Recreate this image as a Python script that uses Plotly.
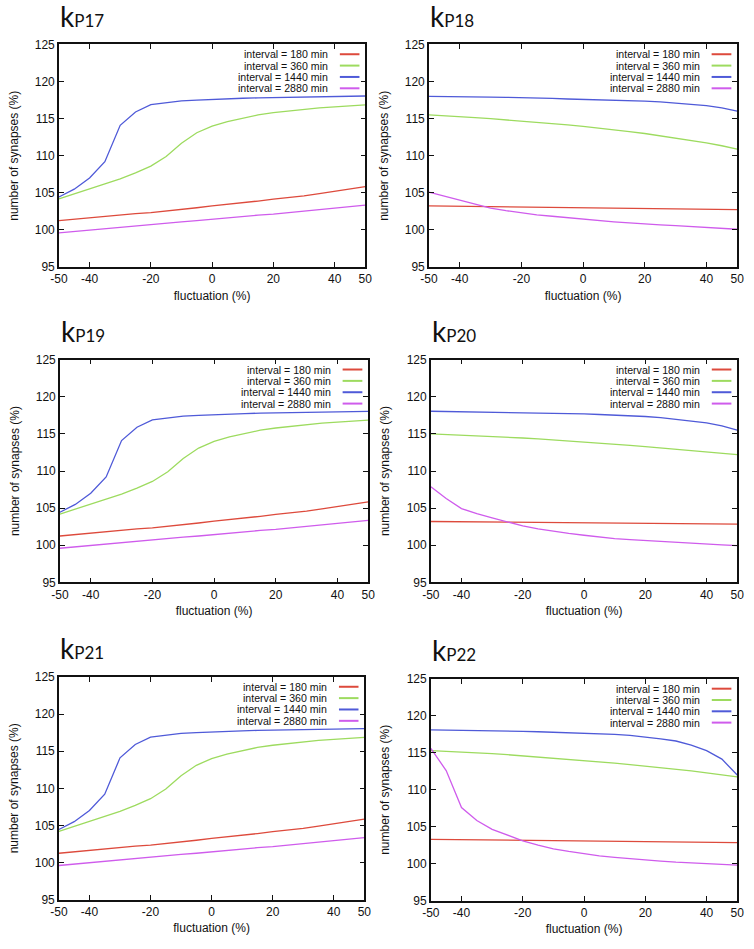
import plotly.graph_objects as go

W, H = 754, 949

FLUCT = [-50, -45, -40, -35, -30, -25, -20, -15, -10, -5, 0, 5, 10, 15, 20, 25, 30, 35, 40, 45, 50]
X_TICKS = [-50, -40, -20, 0, 20, 40, 50]
Y_TICKS = [95, 100, 105, 110, 115, 120, 125]
INTERVALS = ["interval = 180 min", "interval = 360 min", "interval = 1440 min", "interval = 2880 min"]
PANEL_LABELS = ["P17", "P18", "P19", "P20", "P21", "P22"]

# kP17
P17_180 = [101.25, 101.45, 101.6, 101.8, 102.0, 102.2, 102.35, 102.55, 102.75, 103.0, 103.25, 103.45, 103.65, 103.9, 104.15, 104.35, 104.6, 104.9, 105.2, 105.5, 105.85]
P17_360 = [104.2, 104.85, 105.5, 106.2, 106.9, 107.7, 108.6, 109.9, 111.7, 113.1, 114.0, 114.6, 115.1, 115.5, 115.8, 116.05, 116.3, 116.45, 116.6, 116.7, 116.85]
P17_1440 = [104.45, 105.5, 107.0, 109.2, 114.1, 115.9, 116.9, 117.2, 117.4, 117.5, 117.6, 117.7, 117.75, 117.8, 117.85, 117.9, 117.95, 118.0, 118.0, 118.05, 118.05]
P17_2880 = [99.6, 99.8, 99.95, 100.15, 100.3, 100.5, 100.7, 100.9, 101.1, 101.25, 101.45, 101.65, 101.85, 102.0, 102.15, 102.35, 102.6, 102.75, 102.95, 103.15, 103.35]

# kP18
P18_180 = [103.25, 103.23, 103.2, 103.18, 103.15, 103.12, 103.1, 103.07, 103.05, 103.02, 103.0, 102.98, 102.95, 102.93, 102.9, 102.88, 102.85, 102.83, 102.8, 102.78, 102.75]
P18_360 = [115.5, 115.4, 115.3, 115.15, 115.0, 114.85, 114.7, 114.5, 114.35, 114.15, 113.95, 113.75, 113.5, 113.25, 113.0, 112.7, 112.4, 112.1, 111.75, 111.35, 110.9]
P18_1440 = [118.0, 118.0, 117.97, 117.95, 117.9, 117.88, 117.85, 117.8, 117.72, 117.65, 117.6, 117.55, 117.5, 117.42, 117.35, 117.25, 117.1, 116.95, 116.75, 116.45, 116.0]
P18_2880 = [105.1, 104.55, 104.1, 103.5, 102.95, 102.6, 102.3, 102.05, 101.85, 101.65, 101.45, 101.25, 101.1, 100.95, 100.8, 100.7, 100.6, 100.5, 100.35, 100.2, 100.1]

# kP19
P19_180 = [101.25, 101.45, 101.6, 101.8, 102.0, 102.2, 102.35, 102.55, 102.75, 103.0, 103.25, 103.45, 103.65, 103.9, 104.15, 104.35, 104.6, 104.9, 105.2, 105.5, 105.85]
P19_360 = [104.2, 104.85, 105.5, 106.2, 106.9, 107.7, 108.6, 109.9, 111.7, 113.1, 114.0, 114.6, 115.1, 115.5, 115.8, 116.05, 116.3, 116.45, 116.6, 116.7, 116.85]
P19_1440 = [104.45, 105.5, 107.0, 109.2, 114.1, 115.9, 116.9, 117.2, 117.4, 117.5, 117.6, 117.7, 117.75, 117.8, 117.85, 117.9, 117.95, 118.0, 118.0, 118.05, 118.05]
P19_2880 = [99.6, 99.8, 99.95, 100.15, 100.3, 100.5, 100.7, 100.9, 101.1, 101.25, 101.45, 101.65, 101.85, 102.0, 102.15, 102.35, 102.6, 102.75, 102.95, 103.15, 103.35]

# kP20
P20_180 = [103.2, 103.18, 103.17, 103.15, 103.13, 103.12, 103.1, 103.08, 103.07, 103.05, 103.03, 103.02, 103.0, 102.98, 102.97, 102.95, 102.93, 102.92, 102.9, 102.88, 102.85]
P20_360 = [115.0, 114.92, 114.85, 114.78, 114.7, 114.58, 114.45, 114.33, 114.2, 114.05, 113.9, 113.75, 113.6, 113.45, 113.3, 113.12, 112.95, 112.78, 112.6, 112.4, 112.2]
P20_1440 = [118.06, 118.03, 118.0, 117.97, 117.93, 117.88, 117.83, 117.8, 117.75, 117.72, 117.7, 117.62, 117.55, 117.45, 117.35, 117.2, 117.0, 116.8, 116.5, 116.1, 115.5]
P20_2880 = [107.9, 106.3, 104.95, 104.25, 103.7, 103.1, 102.6, 102.2, 101.85, 101.6, 101.35, 101.1, 100.9, 100.75, 100.65, 100.5, 100.38, 100.25, 100.15, 100.05, 99.95]

# kP21
P21_180 = [101.25, 101.45, 101.6, 101.8, 102.0, 102.2, 102.35, 102.55, 102.75, 103.0, 103.25, 103.45, 103.65, 103.9, 104.15, 104.35, 104.6, 104.9, 105.2, 105.5, 105.85]
P21_360 = [104.2, 104.85, 105.5, 106.2, 106.9, 107.7, 108.6, 109.9, 111.7, 113.1, 114.0, 114.6, 115.1, 115.5, 115.8, 116.05, 116.3, 116.45, 116.6, 116.7, 116.85]
P21_1440 = [104.45, 105.5, 107.0, 109.2, 114.1, 115.9, 116.9, 117.2, 117.4, 117.5, 117.6, 117.7, 117.75, 117.8, 117.85, 117.9, 117.95, 118.0, 118.0, 118.05, 118.05]
P21_2880 = [99.6, 99.8, 99.95, 100.15, 100.3, 100.5, 100.7, 100.9, 101.1, 101.25, 101.45, 101.65, 101.85, 102.0, 102.15, 102.35, 102.6, 102.75, 102.95, 103.15, 103.35]

# kP22
P22_180 = [103.3, 103.28, 103.25, 103.23, 103.21, 103.19, 103.17, 103.14, 103.12, 103.1, 103.07, 103.05, 103.03, 103.01, 102.99, 102.96, 102.94, 102.92, 102.9, 102.87, 102.85]
P22_360 = [115.3, 115.22, 115.15, 115.02, 114.9, 114.75, 114.6, 114.45, 114.3, 114.1, 113.9, 113.75, 113.6, 113.4, 113.2, 113.0, 112.8, 112.55, 112.3, 112.05, 111.75]
P22_1440 = [118.1, 118.08, 118.05, 118.02, 118.0, 117.95, 117.9, 117.85, 117.8, 117.75, 117.7, 117.6, 117.5, 117.35, 117.15, 116.9, 116.6, 116.05, 115.3, 114.15, 112.0]
P22_2880 = [115.6, 112.6, 107.6, 105.85, 104.65, 103.85, 103.1, 102.5, 102.0, 101.65, 101.3, 101.05, 100.85, 100.65, 100.5, 100.35, 100.2, 100.08, 99.97, 99.88, 99.8]

PANEL_SERIES = [
    [P17_180, P17_360, P17_1440, P17_2880],
    [P18_180, P18_360, P18_1440, P18_2880],
    [P19_180, P19_360, P19_1440, P19_2880],
    [P20_180, P20_360, P20_1440, P20_2880],
    [P21_180, P21_360, P21_1440, P21_2880],
    [P22_180, P22_360, P22_1440, P22_2880],
]

COLORS = ["#dd4a3c", "#9ddb5f", "#4f5ad8", "#cf5cec"]
FONT = "Liberation Sans, Arial, Helvetica, sans-serif"

# plot boxes in pixels: left, right, top, bottom
BOXES = [
    (51, 364, 38, 264),
    (429, 744, 38, 264),
    (52, 367, 358, 584),
    (431, 744, 358, 584),
    (51, 363, 680, 906),
    (431, 744, 682, 907),
]

fig = go.Figure()
annotations = []
shapes = []

for i, (series, box) in enumerate(zip(PANEL_SERIES, BOXES)):
    n = i + 1
    sfx = "" if n == 1 else str(n)
    L, R, T, B = box
    for vals, col, name in zip(series, COLORS, INTERVALS):
        fig.add_trace(go.Scatter(
            x=FLUCT, y=vals, mode="lines", name=name,
            line=dict(color=col, width=1.3),
            xaxis="x" + sfx, yaxis="y" + sfx, showlegend=False,
        ))
    axcommon = dict(
        showline=True, mirror="ticks", linecolor="#111", linewidth=1.5,
        ticks="inside", ticklen=5, tickwidth=1, tickcolor="#111",
        showgrid=False, zeroline=False,
        tickfont=dict(family=FONT, size=12, color="#111"),
    )
    fig.update_layout(**{
        "xaxis" + sfx: dict(
            domain=[L / W, R / W], anchor="y" + sfx, range=[-50, 50],
            tickvals=X_TICKS, ticktext=[str(v) for v in X_TICKS],
            title=dict(text="fluctuation (%)", font=dict(family=FONT, size=12, color="#111"), standoff=6),
            **axcommon,
        ),
        "yaxis" + sfx: dict(
            domain=[1 - B / H, 1 - T / H], anchor="x" + sfx, range=[95, 125],
            tickvals=Y_TICKS,
            title=dict(text="number of synapses (%)", font=dict(family=FONT, size=12, color="#111"), standoff=14),
            **axcommon,
        ),
    })
    # panel title
    annotations.append(dict(
        text="k<span style='font-size:17px'>" + PANEL_LABELS[i] + "</span>",
        xref="paper", yref="paper", x=(L - 1) / W, y=1 - (T - 29) / H,
        xanchor="left", yanchor="middle", showarrow=False,
        font=dict(family="Lato, Open Sans, sans-serif", size=28, color="#111"),
    ))
    # legend
    for j, (name, col) in enumerate(zip(INTERVALS, COLORS)):
        yy = 0.956 - 0.051 * j
        annotations.append(dict(
            text=name, xref="x" + sfx + " domain", yref="y" + sfx + " domain",
            x=0.885, y=yy, xanchor="right", yanchor="middle", showarrow=False,
            font=dict(family=FONT, size=10.6, color="#111"),
        ))
        shapes.append(dict(
            type="line", xref="x" + sfx + " domain", yref="y" + sfx + " domain",
            x0=0.917, x1=0.981, y0=yy, y1=yy,
            line=dict(color=col, width=2),
        ))

fig.update_layout(
    width=W, height=H, autosize=False,
    margin=dict(l=0, r=0, t=0, b=0),
    paper_bgcolor="white", plot_bgcolor="white",
    annotations=annotations, shapes=shapes,
    font=dict(family=FONT, color="#111"),
)

fig.write_html(
    "out.html",
    config={"displayModeBar": False},
    post_script="document.body.style.margin='0';document.body.style.overflow='hidden';",
)
